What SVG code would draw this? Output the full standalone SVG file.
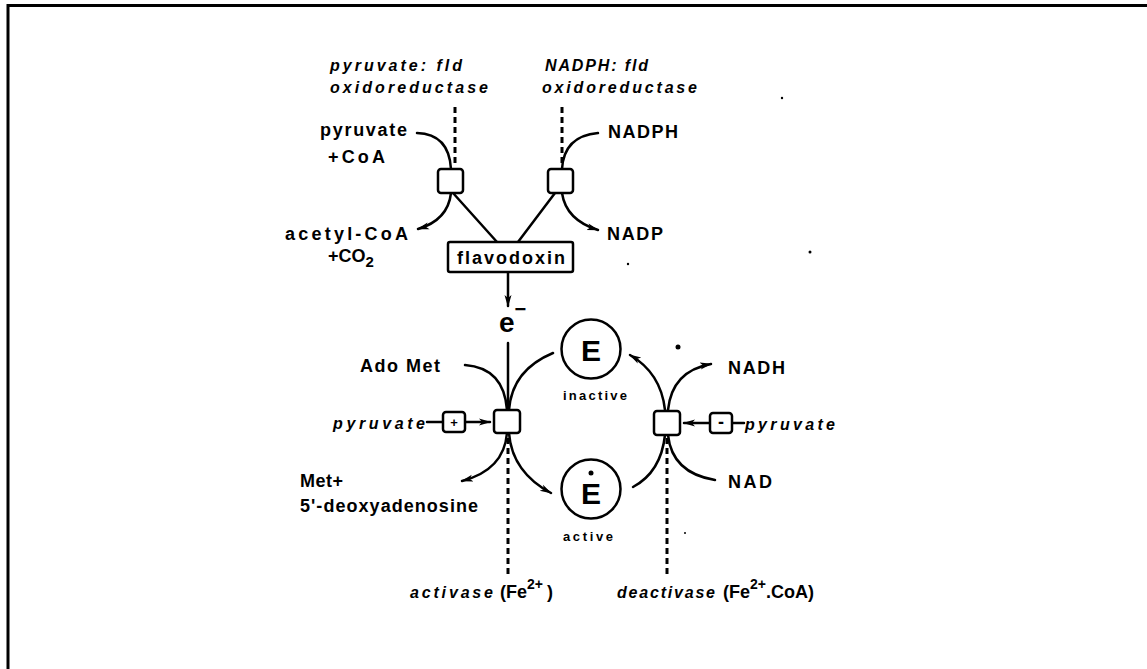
<svg xmlns="http://www.w3.org/2000/svg" width="1147" height="669" viewBox="0 0 1147 669">
<style>
.t{font-family:"Liberation Sans",Arial,sans-serif;font-weight:bold;fill:#000;font-size:18px}
.i{font-style:italic;font-size:16px}
.s{font-size:13px}
.big{font-size:30px}
.ln{fill:none;stroke:#000;stroke-width:2.5;stroke-linecap:round}
.dash{fill:none;stroke:#000;stroke-width:3;stroke-dasharray:6 4}
.box{fill:#fff;stroke:#000;stroke-width:2.5}
.circ{fill:#fff;stroke:#000;stroke-width:2.5}
</style>
<defs>
<marker id="ah" markerUnits="userSpaceOnUse" markerWidth="14" markerHeight="10" refX="11" refY="5" orient="auto">
<path d="M0,1.5 L12,5 L0,8.5 L3,5 Z" fill="#000"/>
</marker>
</defs>
<rect width="1147" height="669" fill="#fff"/>
<g id="frame"><path d="M8,669 L8,5.5 L1147,5.5" fill="none" stroke="#000" stroke-width="3"/></g>

<g id="connectors">
<path class="dash" d="M455,107 L455,166"/>
<path class="dash" d="M562,107 L562,166"/>
<path class="ln" d="M417,133 Q449,134 451,169"/>
<path class="ln" d="M598,133 Q564,136 562,169"/>
<path class="ln" marker-end="url(#ah)" d="M451,193 Q448,220 418,229"/>
<path class="ln" marker-end="url(#ah)" d="M562,193 Q566,220 598,230"/>
<path class="ln" d="M453,193 L497,242"/>
<path class="ln" d="M555,193 L518,242"/>
<path class="ln" marker-end="url(#ah)" d="M508,272 L508,306"/>
<path class="ln" d="M508,343 L508,410"/>
<path class="ln" d="M465,365 Q504,368 507,410"/>
<path class="ln" d="M553,353 Q512,370 509,410"/>
<path class="ln" marker-end="url(#ah)" d="M507,433 Q504,470 462,481"/>
<path class="ln" marker-end="url(#ah)" d="M509,433 Q512,472 551,493"/>
<path class="dash" d="M508,438 L508,578"/>
<path class="ln" marker-end="url(#ah)" d="M665,410 Q661,373 630,355"/>
<path class="ln" marker-end="url(#ah)" d="M668,410 Q672,371 711,364"/>
<path class="ln" d="M665,435 Q661,472 633,487"/>
<path class="ln" d="M668,435 Q672,473 715,480"/>
<path class="dash" d="M667,438 L667,578"/>
<path class="ln" d="M427,422 L443,422"/>
<path class="ln" marker-end="url(#ah)" d="M465,422 L490,422"/>
<path class="ln" d="M732,423 L744,423"/>
<path class="ln" marker-end="url(#ah)" d="M710,423 L684,423"/>
</g>

<g id="pfor-label">
<text class="t i" x="330" y="71" textLength="132" lengthAdjust="spacing">pyruvate: fld</text>
<text class="t i" x="330" y="93" textLength="158" lengthAdjust="spacing">oxidoreductase</text>
</g>
<g id="nfor-label">
<text class="t i" x="545" y="71" textLength="103" lengthAdjust="spacing">NADPH: fld</text>
<text class="t i" x="542" y="93" textLength="155" lengthAdjust="spacing">oxidoreductase</text>
</g>
<g id="pyruvate-coa">
<text class="t" x="320" y="136" textLength="87" lengthAdjust="spacing">pyruvate</text>
<text class="t" x="328" y="163" textLength="57" lengthAdjust="spacing">+CoA</text>
</g>
<g id="nadph"><text class="t" x="608" y="138" textLength="70" lengthAdjust="spacing">NADPH</text></g>
<g id="acetylcoa">
<text class="t" x="285" y="240" textLength="123" lengthAdjust="spacing">acetyl-CoA</text>
<text class="t" x="328" y="262">+CO<tspan dy="5" font-size="15">2</tspan></text>
</g>
<g id="nadp"><text class="t" x="607" y="240" textLength="56" lengthAdjust="spacing">NADP</text></g>
<g id="pfor-box"><rect class="box" x="438" y="169" width="25" height="24" rx="3"/></g>
<g id="nfor-box"><rect class="box" x="548" y="169" width="25" height="24" rx="3"/></g>
<g id="flavodoxin">
<rect class="box" x="448" y="242" width="125" height="30" rx="2"/>
<text class="t" x="457" y="264" textLength="108" lengthAdjust="spacing">flavodoxin</text>
</g>
<g id="electron"><text class="t" x="499" y="332" style="font-size:28px">e<tspan dy="-16" font-size="20">−</tspan></text></g>
<g id="adomet"><text class="t" x="360" y="372" textLength="80" lengthAdjust="spacing">Ado Met</text></g>
<g id="e-inactive">
<circle class="circ" cx="591" cy="349" r="29.5"/>
<text class="t big" x="591" y="361" text-anchor="middle">E</text>
<text class="t s" x="563" y="400" textLength="64" lengthAdjust="spacing">inactive</text>
</g>
<g id="nadh"><text class="t" x="728" y="374" textLength="57" lengthAdjust="spacing">NADH</text></g>
<g id="activase-box"><rect class="box" x="494" y="410" width="26" height="23" rx="3"/></g>
<g id="deactivase-box"><rect class="box" x="654" y="411" width="26" height="24" rx="3"/></g>
<g id="pyruvate-plus">
<text class="t i" x="333" y="429" textLength="92" lengthAdjust="spacing">pyruvate</text>
<rect class="box" x="443" y="412" width="22" height="20" rx="3"/>
<text class="t s" x="454" y="427" text-anchor="middle">+</text>
</g>
<g id="pyruvate-minus">
<rect class="box" x="710" y="413" width="22" height="20" rx="3"/>
<text class="t" x="721" y="428" text-anchor="middle">-</text>
<text class="t i" x="745" y="430" textLength="90" lengthAdjust="spacing">pyruvate</text>
</g>
<g id="met-products">
<text class="t" x="300" y="487" textLength="43" lengthAdjust="spacing">Met+</text>
<text class="t" x="300" y="512" textLength="178" lengthAdjust="spacing">5'-deoxyadenosine</text>
</g>
<g id="nad"><text class="t" x="728" y="488" textLength="44" lengthAdjust="spacing">NAD</text></g>
<g id="e-active">
<circle class="circ" cx="591" cy="489" r="29.5"/>
<circle cx="591" cy="473" r="2.5" fill="#000"/>
<text class="t big" x="591" y="504" text-anchor="middle">E</text>
<text class="t s" x="563" y="541" textLength="50" lengthAdjust="spacing">active</text>
</g>
<g id="activase-label">
<text class="t i" x="410" y="598" textLength="83" lengthAdjust="spacing">activase</text>
<text class="t" x="500" y="598">(Fe<tspan dy="-9" font-size="14">2+</tspan><tspan dy="9" dx="4">)</tspan></text>
</g>
<g id="deactivase-label">
<text class="t i" x="617" y="598" textLength="98" lengthAdjust="spacing">deactivase</text>
<text class="t" x="723" y="598">(Fe<tspan dy="-9" font-size="14">2+</tspan><tspan dy="9">.CoA)</tspan></text>
</g>
<g id="specks" fill="#000">
<circle cx="782" cy="98" r="1.2"/>
<circle cx="628" cy="264" r="1.2"/>
<circle cx="810" cy="252" r="1.5"/>
<circle cx="678" cy="347" r="2.5"/>
<circle cx="685" cy="533" r="1"/>
</g>
</svg>
